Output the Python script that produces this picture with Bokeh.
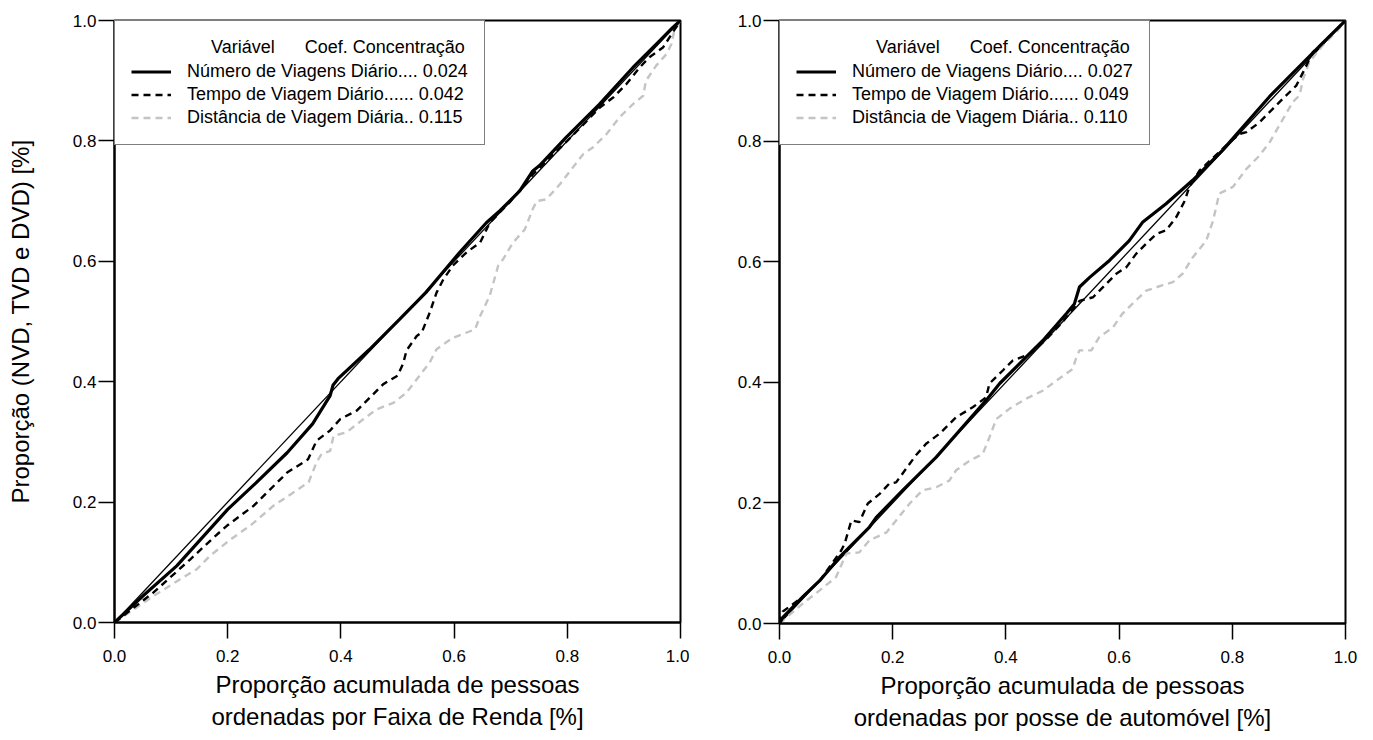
from bokeh.plotting import figure
from bokeh.layouts import row
from bokeh.models import Range1d, FixedTicker, NumeralTickFormatter
from bokeh.embed import file_html
from bokeh.resources import INLINE

# ---------------- data ----------------
diag = [0.0, 1.0]

series_names = ["Número de Viagens Diário....", "Tempo de Viagem Diário......", "Distância de Viagem Diária.."]
coef_renda = ["0.024", "0.042", "0.115"]
coef_auto = ["0.027", "0.049", "0.110"]
ticks = [0.0, 0.2, 0.4, 0.6, 0.8, 1.0]

# Painel 1: ordenado por faixa de renda
renda_nvd_x = [0, 0.05, 0.11, 0.2, 0.25, 0.305, 0.35, 0.381, 0.386, 0.395, 0.45, 0.504, 0.55, 0.61, 0.657,
               0.681, 0.716, 0.739, 0.751, 0.798, 0.857, 0.916, 0.963, 0.986, 1.0]
renda_nvd_y = [0, 0.044, 0.094, 0.188, 0.232, 0.282, 0.33, 0.377, 0.394, 0.405, 0.453, 0.504, 0.548, 0.615, 0.664,
               0.684, 0.717, 0.750, 0.759, 0.806, 0.861, 0.922, 0.966, 0.988, 1.0]
renda_tvd_x = [0, 0.069, 0.134, 0.175, 0.199, 0.246, 0.305, 0.342, 0.357, 0.381, 0.399, 0.428, 0.457, 0.475,
               0.5, 0.51, 0.516, 0.534, 0.543, 0.557, 0.569, 0.581, 0.598, 0.622, 0.646, 0.663, 0.70, 0.74,
               0.80, 0.857, 0.881, 0.904, 0.928, 0.945, 0.969, 0.984, 1.0]
renda_tvd_y = [0, 0.05, 0.105, 0.141, 0.161, 0.194, 0.249, 0.271, 0.302, 0.319, 0.338, 0.352, 0.379, 0.396,
               0.41, 0.43, 0.452, 0.476, 0.482, 0.515, 0.548, 0.570, 0.593, 0.615, 0.631, 0.664, 0.70, 0.745,
               0.80, 0.855, 0.872, 0.894, 0.922, 0.939, 0.955, 0.977, 1.0]
renda_dvd_x = [0, 0.069, 0.116, 0.146, 0.169, 0.205, 0.24, 0.281, 0.316, 0.343, 0.357, 0.366, 0.381, 0.387,
               0.41, 0.44, 0.463, 0.493, 0.516, 0.534, 0.557, 0.569, 0.598, 0.637, 0.646, 0.663, 0.678, 0.687,
               0.704, 0.725, 0.739, 0.746, 0.763, 0.787, 0.81, 0.828, 0.845, 0.869, 0.892, 0.916, 0.934, 0.939,
               0.957, 0.975, 0.984, 0.989, 1.0]
renda_dvd_y = [0, 0.044, 0.072, 0.089, 0.111, 0.138, 0.161, 0.194, 0.216, 0.233, 0.266, 0.28, 0.285, 0.31,
               0.316, 0.338, 0.354, 0.365, 0.382, 0.404, 0.432, 0.454, 0.473, 0.487, 0.509, 0.543, 0.593, 0.604,
               0.631, 0.653, 0.687, 0.700, 0.703, 0.728, 0.756, 0.778, 0.789, 0.811, 0.839, 0.861, 0.875, 0.9,
               0.925, 0.944, 0.961, 0.983, 1.0]

# Painel 2: ordenado por posse de automóvel
auto_nvd_x = [0, 0.006, 0.041, 0.071, 0.106, 0.159, 0.171, 0.218, 0.277, 0.365, 0.389, 0.436, 0.465, 0.507,
              0.521, 0.530, 0.548, 0.583, 0.618, 0.642, 0.683, 0.730, 0.783, 0.866, 0.92, 0.96, 1.0]
auto_nvd_y = [0, 0.01, 0.044, 0.071, 0.11, 0.16, 0.176, 0.221, 0.276, 0.37, 0.398, 0.442, 0.469, 0.514,
              0.53, 0.558, 0.574, 0.602, 0.635, 0.666, 0.696, 0.735, 0.785, 0.874, 0.925, 0.963, 1.0]
auto_tvd_x = [0, 0.006, 0.041, 0.071, 0.109, 0.115, 0.127, 0.141, 0.156, 0.177, 0.194, 0.206, 0.224, 0.241,
              0.259, 0.283, 0.312, 0.342, 0.365, 0.371, 0.395, 0.412, 0.442, 0.47, 0.50, 0.53, 0.554, 0.577,
              0.595, 0.613, 0.630, 0.648, 0.666, 0.683, 0.701, 0.716, 0.724, 0.742, 0.795, 0.813, 0.825, 0.848,
              0.872, 0.889, 0.913, 0.925, 0.942, 0.97, 1.0]
auto_tvd_y = [0, 0.02, 0.044, 0.071, 0.121, 0.132, 0.171, 0.168, 0.199, 0.215, 0.232, 0.234, 0.257, 0.279,
              0.298, 0.315, 0.342, 0.359, 0.375, 0.398, 0.42, 0.436, 0.447, 0.47, 0.50, 0.535, 0.541, 0.563,
              0.58, 0.591, 0.613, 0.630, 0.646, 0.652, 0.674, 0.701, 0.724, 0.751, 0.798, 0.812, 0.815, 0.831,
              0.854, 0.870, 0.892, 0.914, 0.947, 0.972, 1.0]
auto_dvd_x = [0, 0.006, 0.041, 0.071, 0.1, 0.118, 0.141, 0.159, 0.189, 0.206, 0.23, 0.253, 0.277, 0.300,
              0.312, 0.336, 0.359, 0.371, 0.383, 0.406, 0.436, 0.465, 0.5, 0.518, 0.524, 0.530, 0.551, 0.565,
              0.589, 0.606, 0.630, 0.648, 0.677, 0.695, 0.712, 0.730, 0.754, 0.766, 0.777, 0.801, 0.825, 0.848,
              0.866, 0.883, 0.907, 0.919, 0.925, 0.936, 0.96, 0.984, 1.0]
auto_dvd_y = [0, 0.005, 0.033, 0.055, 0.077, 0.116, 0.118, 0.138, 0.151, 0.171, 0.199, 0.221, 0.226, 0.237,
              0.254, 0.27, 0.281, 0.309, 0.339, 0.356, 0.373, 0.386, 0.41, 0.422, 0.44, 0.453, 0.453, 0.475,
              0.491, 0.514, 0.536, 0.552, 0.561, 0.566, 0.580, 0.607, 0.635, 0.668, 0.713, 0.724, 0.754, 0.776,
              0.798, 0.826, 0.865, 0.876, 0.903, 0.931, 0.959, 0.981, 1.0]

FONT = "Liberation Sans"
NB = "\u00a0"


def make_panel(series, coefs, xlabel, ylabel, border_left, border_top, frame_h, border_right):
    p = figure(frame_width=566, frame_height=frame_h,
               x_range=Range1d(0, 1), y_range=Range1d(0, 1),
               output_backend="svg", toolbar_location=None,
               min_border_left=border_left, min_border_top=border_top,
               min_border_right=border_right, min_border_bottom=100,
               background_fill_color="white", border_fill_color="white")
    p.grid.visible = False
    p.outline_line_color = "black"
    p.outline_line_width = 2

    # linha de igualdade
    p.line(diag, diag, line_color="black", line_width=1.3)

    styles = [
        dict(line_color="black", line_width=3.2),
        dict(line_color="black", line_width=2.4, line_dash="7 5"),
        dict(line_color="#c4c4c4", line_width=2.4, line_dash="7 5"),
    ]
    renderers = []
    for (xs, ys), name, coef, st in zip(series, series_names, coefs, styles):
        r = p.line(xs, ys, legend_label=f"{name} {coef}", **st)
        renderers.append(r)
    # ordem de desenho: cinza, tracejada, sólida por cima
    p.renderers = [p.renderers[0], renderers[2], renderers[1], renderers[0]]

    for ax in (p.xaxis[0], p.yaxis[0]):
        ax.ticker = FixedTicker(ticks=ticks)
        ax.formatter = NumeralTickFormatter(format="0.0")
        ax.minor_tick_line_color = None
        ax.major_tick_in = 0
        ax.major_tick_out = 16
        ax.major_tick_line_width = 1.5
        ax.major_tick_line_color = "black"
        ax.axis_line_width = 2
        ax.axis_line_color = "black"
        ax.major_label_text_font = FONT
        ax.major_label_text_font_size = "17px"
        ax.major_label_text_color = "black"
        ax.axis_label_text_font = FONT
        ax.axis_label_text_font_size = "24px"
        ax.axis_label_text_font_style = "normal"
        ax.axis_label_text_color = "black"
    p.xaxis[0].major_label_standoff = 11
    p.yaxis[0].major_label_standoff = 2
    p.xaxis[0].axis_label = xlabel
    p.xaxis[0].axis_label_standoff = 6
    if ylabel:
        p.yaxis[0].axis_label = ylabel
        p.yaxis[0].axis_label_standoff = 36

    lg = p.legend[0]
    lg.location = "top_left"
    lg.margin = 0
    lg.padding = 16
    lg.spacing = 2
    lg.glyph_width = 40
    lg.glyph_height = 21
    lg.label_height = 21
    lg.label_standoff = 16
    lg.label_text_font = FONT
    lg.label_text_font_size = "18px"
    lg.label_text_color = "black"
    lg.title = NB * 16 + "Variável" + NB * 6 + "Coef. Concentração"
    lg.title_text_font = FONT
    lg.title_text_font_size = "18px"
    lg.title_text_font_style = "normal"
    lg.title_text_color = "black"
    lg.title_standoff = 3
    lg.border_line_color = "black"
    lg.border_line_width = 1.5
    lg.background_fill_color = "white"
    lg.background_fill_alpha = 1.0
    return p


p1 = make_panel([(renda_nvd_x, renda_nvd_y), (renda_tvd_x, renda_tvd_y), (renda_dvd_x, renda_dvd_y)],
                coef_renda,
                "Proporção acumulada de pessoas\nordenadas por Faixa de Renda [%]",
                "Proporção (NVD, TVD e DVD) [%]", 114, 18, 602, 9)
p2 = make_panel([(auto_nvd_x, auto_nvd_y), (auto_tvd_x, auto_tvd_y), (auto_dvd_x, auto_dvd_y)],
                coef_auto,
                "Proporção acumulada de pessoas\nordenadas por posse de automóvel [%]",
                None, 90, 20, 603, 17)

layout = row(p1, p2)
open("out.html", "w").write(file_html(layout, INLINE))
